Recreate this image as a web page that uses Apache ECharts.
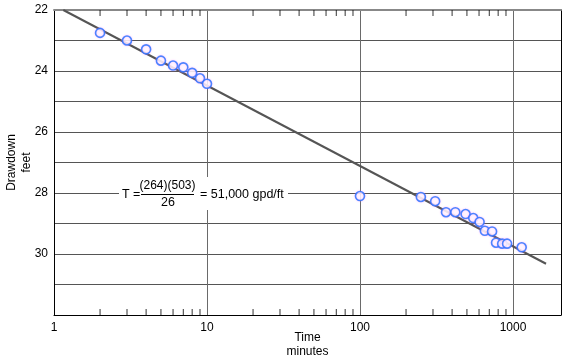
<!DOCTYPE html>
<html>
<head>
<meta charset="utf-8">
<script src="https://cdn.jsdelivr.net/npm/echarts@6/dist/echarts.min.js"></script>
<style>
html,body{margin:0;padding:0;background:#fff;}
#chart{width:566px;height:359px;}
</style>
</head>
<body>
<div id="chart"></div>
<script>
// Observed data (time in minutes, drawdown in feet)
const timeMin = [2, 3, 4, 5, 6, 7, 8, 9, 10, 100, 250, 310, 365, 420, 490, 550, 605, 655, 730, 775, 850, 915, 1140];
const drawdownFt = [22.75, 23.0, 23.29, 23.66, 23.82, 23.88, 24.06, 24.24, 24.42, 28.10, 28.13, 28.27, 28.63, 28.63, 28.69, 28.82, 28.95, 29.24, 29.26, 29.63, 29.66, 29.66, 29.78];
// Fitted straight line
const fitTime = [1.15, 1645];
const fitDrawdown = [22.0, 30.32];
// Axis ticks
const xMajorTicks = [1, 10, 100, 1000];
const xMinorTicks = [2,3,4,5,6,7,8,9,20,30,40,50,60,70,80,90,200,300,400,500,600,700,800,900];
const yTickLabels = [22, 24, 26, 28, 30];

const FONT = "'Liberation Sans', Arial, Helvetica, sans-serif";
const chart = echarts.init(document.getElementById('chart'), null, {renderer: 'canvas'});

const X_MIN = 1, X_MAX = 2060, Y_MIN = 22, Y_MAX = 32;

const tickStyle = {
  type: 'scatter', xAxisIndex: 0, yAxisIndex: 0, silent: true, clip: false,
  symbol: 'rect', symbolSize: [1, 6], itemStyle: {color: '#000'}, z: 3
};

chart.setOption({
  animation: false,
  backgroundColor: '#fff',
  grid: {left: 54, top: 10, right: 5, bottom: 44, containLabel: false, outerBoundsMode: 'none'},
  xAxis: [{
    type: 'log', logBase: 10, min: X_MIN, max: X_MAX, position: 'bottom',
    name: 'Time\nminutes', nameLocation: 'middle', nameGap: 16, nameMoveOverlap: false,
    nameTextStyle: {fontFamily: FONT, fontSize: 12, color: '#000', lineHeight: 14, verticalAlign: 'top'},
    axisLine: {show: true, lineStyle: {color: '#000', width: 1}},
    axisTick: {show: false},
    axisLabel: {
      show: true, margin: 7, fontFamily: FONT, fontSize: 12, color: '#000',
      showMaxLabel: false,
      formatter: v => (xMajorTicks.indexOf(Math.round(v)) >= 0 ? String(Math.round(v)) : '')
    },
    splitLine: {show: true, lineStyle: {color: '#6a6a6a', width: 1}}
  }, {
    type: 'log', logBase: 10, min: X_MIN, max: X_MAX, position: 'top',
    axisLine: {show: true, lineStyle: {color: '#888', width: 2}},
    axisTick: {show: false}, axisLabel: {show: false}, splitLine: {show: false}
  }],
  yAxis: [{
    type: 'value', inverse: true, min: Y_MIN, max: Y_MAX, interval: 1, position: 'left',
    name: 'Drawdown\nfeet', nameLocation: 'middle', nameGap: 20.5, nameRotate: 90, nameMoveOverlap: false,
    nameTextStyle: {fontFamily: FONT, fontSize: 12, color: '#000', lineHeight: 14.5},
    axisLine: {show: true, lineStyle: {color: '#000', width: 1}},
    axisTick: {show: false},
    axisLabel: {
      margin: 6, fontFamily: FONT, fontSize: 12, color: '#000',
      formatter: v => (yTickLabels.indexOf(v) >= 0 ? String(v) : '')
    },
    splitLine: {show: true, lineStyle: {color: '#555', width: 1}}
  }, {
    type: 'value', inverse: true, min: Y_MIN, max: Y_MAX, position: 'right',
    axisLine: {show: true, lineStyle: {color: '#000', width: 1}},
    axisTick: {show: false}, axisLabel: {show: false}, splitLine: {show: false}
  }],
  series: [
    Object.assign({}, tickStyle, {data: xMinorTicks.map(v => [v, Y_MIN]), symbolOffset: [0, 3]}),
    Object.assign({}, tickStyle, {data: xMinorTicks.map(v => [v, Y_MAX]), symbolOffset: [0, -3]}),
  {
    type: 'line',
    xAxisIndex: 0, yAxisIndex: 0,
    data: fitTime.map((t, i) => [t, fitDrawdown[i]]),
    symbol: 'none',
    lineStyle: {color: '#555', width: 2},
    z: 4
  }, {
    type: 'scatter',
    xAxisIndex: 0, yAxisIndex: 0,
    data: timeMin.map((t, i) => [t, drawdownFt[i]]),
    symbol: 'circle', symbolSize: 9,
    itemStyle: {color: '#fff', borderColor: '#1f6fff', borderWidth: 1.6,
      shadowColor: 'rgba(255,120,255,0.5)', shadowBlur: 2},
    z: 5
  }],
  graphic: [
    {type: 'rect', z: 100, shape: {x: 119, y: 177, width: 169, height: 33}, style: {fill: '#fff'}},
    {type: 'text', z: 101, x: 122, y: 194.5, style: {text: 'T =', font: '12.5px ' + FONT, fill: '#000', align: 'left', verticalAlign: 'middle'}},
    {type: 'text', z: 101, x: 167.5, y: 186, style: {text: '(264)(503)', font: '12px ' + FONT, fill: '#000', align: 'center', verticalAlign: 'middle'}},
    {type: 'line', z: 101, shape: {x1: 141, y1: 194.5, x2: 194, y2: 194.5}, style: {stroke: '#000', lineWidth: 1}},
    {type: 'text', z: 101, x: 168, y: 202.5, style: {text: '26', font: '12.5px ' + FONT, fill: '#000', align: 'center', verticalAlign: 'middle'}},
    {type: 'text', z: 101, x: 200, y: 195, style: {text: '= 51,000 gpd/ft', font: '12.5px ' + FONT, fill: '#000', align: 'left', verticalAlign: 'middle'}}
  ]
});
</script>
</body>
</html>
